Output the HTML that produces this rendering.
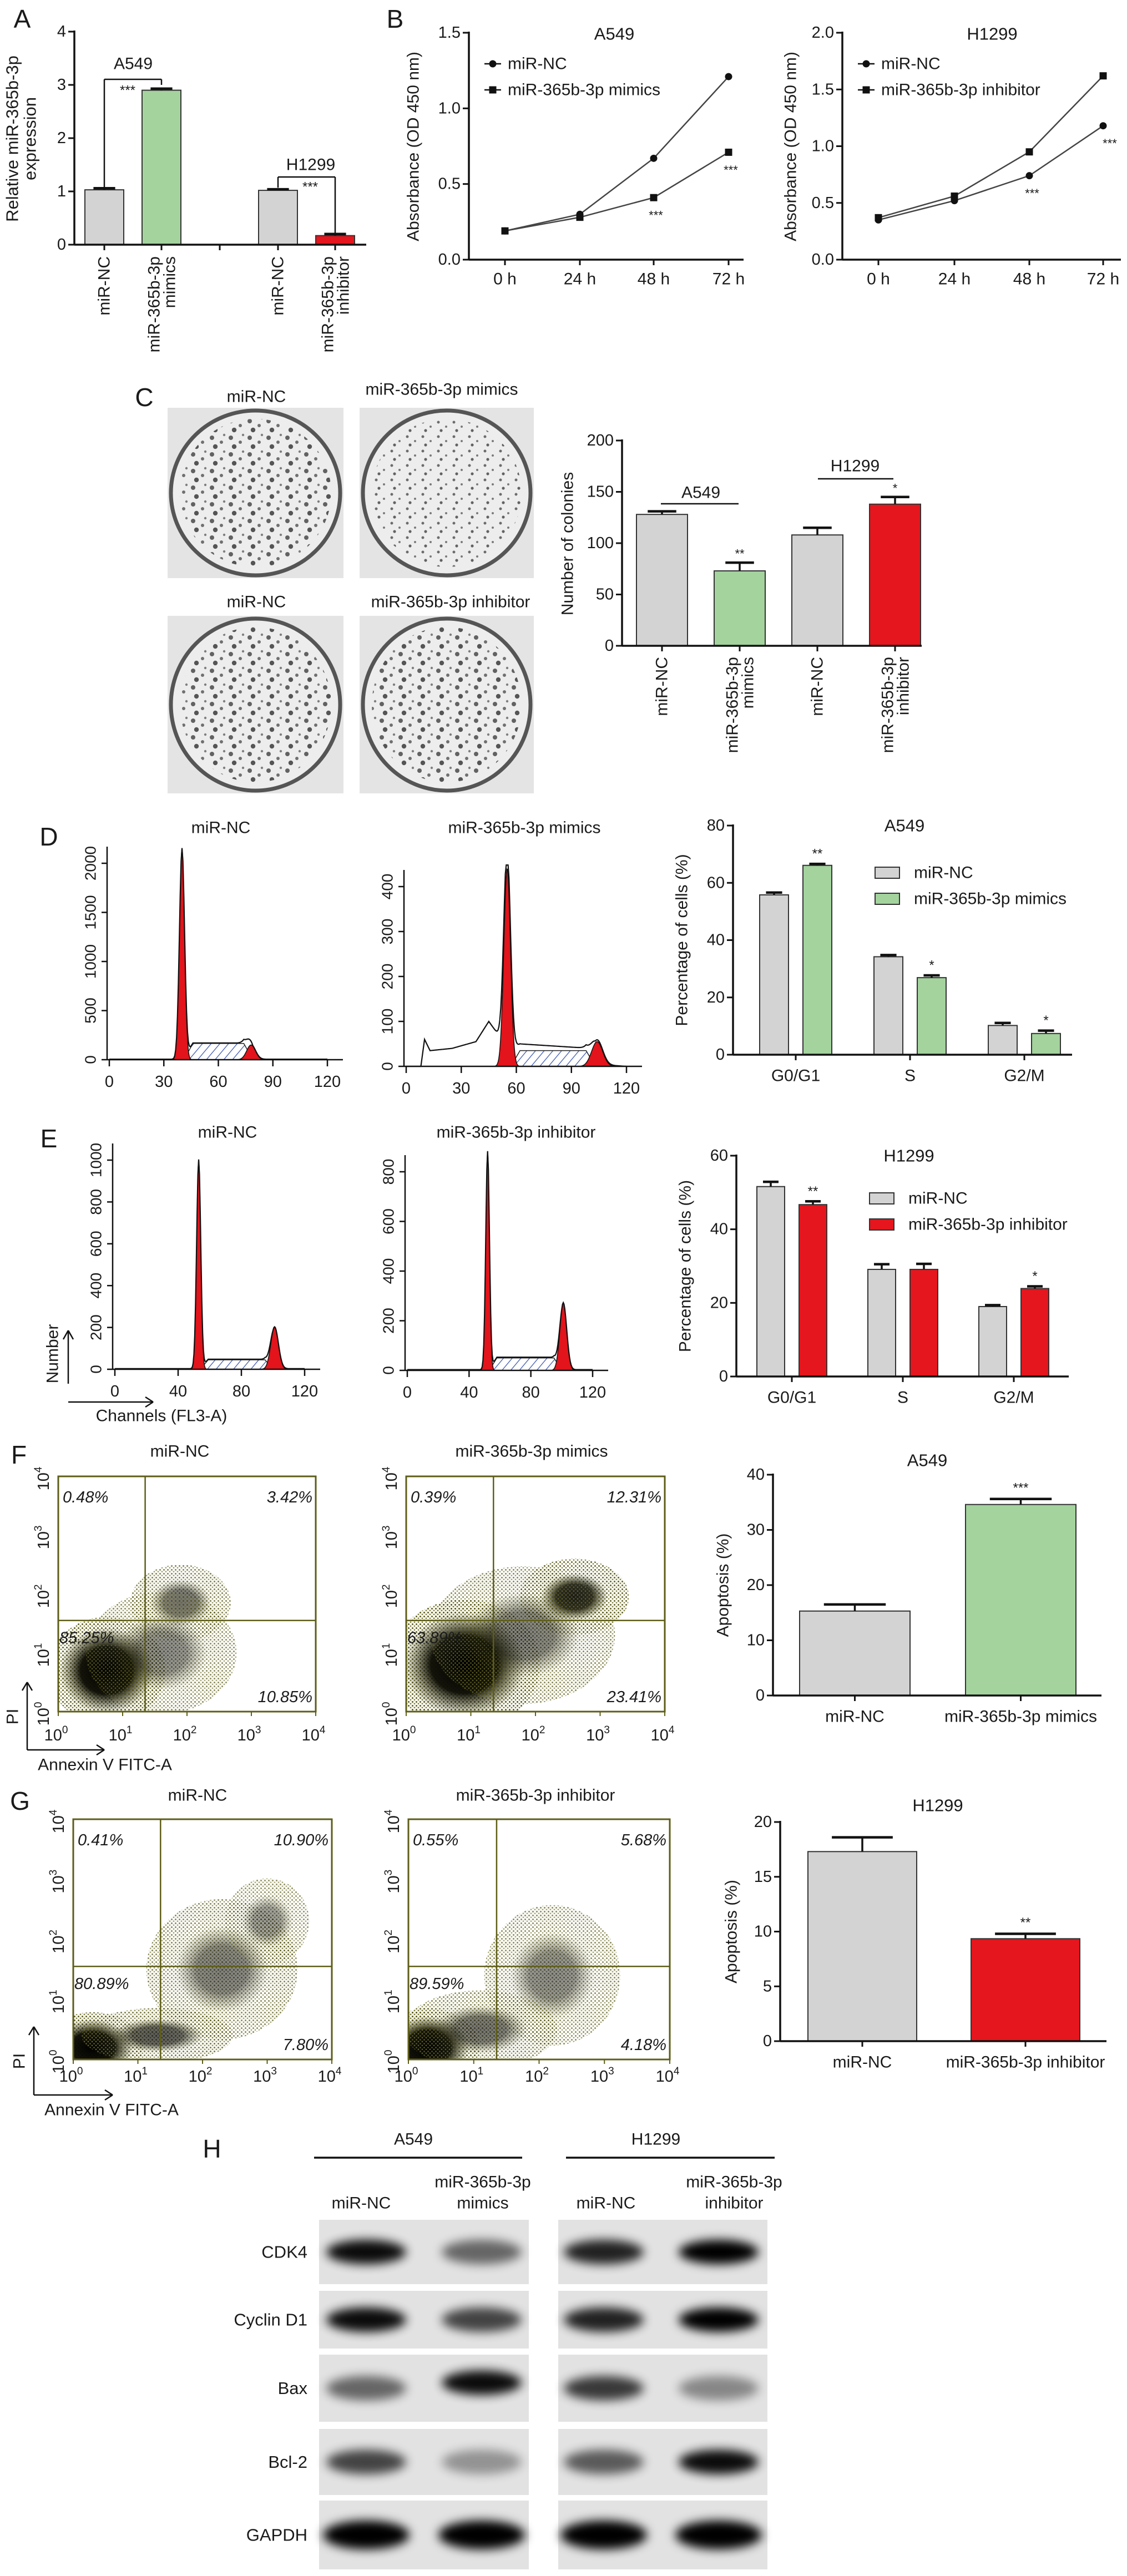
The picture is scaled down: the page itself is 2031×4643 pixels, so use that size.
<!DOCTYPE html>
<html><head><meta charset="utf-8">
<style>
body{margin:0;background:#fff}
svg{display:block;font-family:"Liberation Sans",Arial,sans-serif}
</style></head>
<body>
<svg id="fig" width="2031" height="4643" viewBox="0 0 2031 4643" xmlns="http://www.w3.org/2000/svg">
<defs>
 <pattern id="hatch" width="12" height="12" patternUnits="userSpaceOnUse" patternTransform="rotate(40)"><line x1="0" y1="0" x2="0" y2="12" stroke="#3a55b0" stroke-width="2.5"/></pattern>
 <pattern id="colony" width="34" height="30" patternUnits="userSpaceOnUse"><circle cx="8" cy="9" r="4" fill="#4a4a4a"/><circle cx="25" cy="17" r="3" fill="#5a5a5a"/><circle cx="14" cy="25" r="4.2" fill="#3a3a3a"/><circle cx="30" cy="4" r="2.2" fill="#6a6a6a"/></pattern>
 <pattern id="colony2" width="28" height="26" patternUnits="userSpaceOnUse"><circle cx="6" cy="7" r="2.5" fill="#555"/><circle cx="20" cy="15" r="2" fill="#666"/><circle cx="11" cy="22" r="2.6" fill="#4a4a4a"/></pattern>
 <pattern id="speck" width="7" height="7" patternUnits="userSpaceOnUse"><circle cx="1.5" cy="1.5" r="1.6" fill="#5f5f20"/><circle cx="5" cy="4.8" r="1.4" fill="#7a7a30"/></pattern>
 <radialGradient id="dens"><stop offset="0" stop-color="#000"/><stop offset="0.55" stop-color="#0d0d04" stop-opacity="0.97"/><stop offset="1" stop-color="#3a3a10" stop-opacity="0"/></radialGradient>
 <filter id="blur" x="-50%" y="-100%" width="200%" height="300%"><feGaussianBlur stdDeviation="9"/></filter>
</defs>
</svg>
<script>
// ---------- DATA ----------
const aCats = ['miR-NC','miR-365b-3p mimics','miR-NC','miR-365b-3p inhibitor'];
const aVals = [1.03, 2.90, 1.02, 0.17];
const aErrs = [0.03, 0.03, 0.02, 0.03];
const aTicks = [0,1,2,3,4];

const bTimes = ['0 h','24 h','48 h','72 h'];
const bA549NC = [0.19, 0.30, 0.67, 1.21];
const bA549Mim = [0.19, 0.28, 0.41, 0.71];
const bH1299NC = [0.35, 0.52, 0.74, 1.18];
const bH1299Inh = [0.37, 0.56, 0.95, 1.62];
const bTicksA = ['0.0','0.5','1.0','1.5'];
const bTicksH = ['0.0','0.5','1.0','1.5','2.0'];

const cVals = [128, 73, 108, 138];
const cErrs = [3, 8, 7, 7];
const cTicks = [0,50,100,150,200];

const phases = ['G0/G1','S','G2/M'];
const dNC = [55.8, 34.2, 10.2];
const dMim = [66.1, 26.9, 7.4];
const dNCErr = [0.8, 0.6, 0.9];
const dMimErr = [0.5, 0.8, 1.0];
const dTicks = [0,20,40,60,80];
const eNC = [51.6, 29.1, 19.0];
const eInh = [46.7, 29.1, 23.9];
const eNCErr = [1.3, 1.4, 0.4];
const eInhErr = [0.9, 1.5, 0.6];
const eTicks = [0,20,40,60];

const fVals = [15.3, 34.6];
const fErrs = [1.2, 1.0];
const fTicks = [0,10,20,30,40];
const gVals = [17.3, 9.35];
const gErrs = [1.3, 0.45];
const gTicks = [0,5,10,15,20];

// histogram peaks: [channel, height, sd]
const hD1Peaks = [[40,2150,1.4],[78,150,2.4]];
const hD1S = [44,76,165];
const hD1Debris = [[0,5],[120,5]];
const hD2Peaks = [[55,440,1.8],[104,55,3]];
const hD2S = [60,100,35];
const hD2Debris = [[8,0],[10,60],[13,35],[25,40],[38,55],[45,100],[52,60],[62,15],[120,0]];
const hE1Peaks = [[53,1000,1.3],[101,200,2.4]];
const hE1S = [57,97,45];
const hE1Debris = [[0,3],[120,3]];
const hE2Peaks = [[52,880,1.2],[101,270,2.2]];
const hE2S = [56,97,50];
const hE2Debris = [[0,3],[120,3]];

// scatter clusters: [log x, log y, rx(decades), ry(decades), darkness]
const fNCclusters = [[0.75,0.7,0.7,0.7,1],[1.9,1.85,0.6,0.5,0.55],[1.6,1.0,0.9,0.8,0.45]];
const fMimClusters = [[0.9,0.8,0.9,0.85,1],[2.6,1.95,0.65,0.5,0.9],[1.8,1.3,1.1,0.9,0.5]];
const gNCclusters = [[0.3,0.2,0.6,0.45,1],[2.3,1.5,0.9,0.9,0.5],[3.0,2.3,0.5,0.55,0.4],[1.3,0.4,0.9,0.35,0.65]];
const gInhClusters = [[0.3,0.2,0.6,0.5,1],[2.2,1.4,0.8,0.9,0.45],[1.1,0.5,0.9,0.5,0.55]];
const fNCpct = ['0.48%','3.42%','85.25%','10.85%'];
const fMimPct = ['0.39%','12.31%','63.89%','23.41%'];
const gNCpct = ['0.41%','10.90%','80.89%','7.80%'];
const gInhPct = ['0.55%','5.68%','89.59%','4.18%'];
const quadGate = [1.35, 1.55];

const blotRows = ['CDK4','Cyclin D1','Bax','Bcl-2','GAPDH'];
const blotInt = [[0.95,0.55,0.85,1.0],[0.95,0.7,0.85,1.0],[0.55,0.95,0.75,0.4],[0.7,0.35,0.6,0.95],[1,1,1,1]];

// ---------- HELPERS ----------
const NS='http://www.w3.org/2000/svg';
const svg=document.getElementById('fig');
function mk(tag,a,p){const e=document.createElementNS(NS,tag);for(const k in a)e.setAttribute(k,a[k]);(p||svg).appendChild(e);return e;}
function label(name,str,x,y,size,anchor,rot,extra){
  const t=mk('text',Object.assign({x:x,y:y,'font-size':size,'text-anchor':anchor||'middle','dominant-baseline':'central',fill:'#1a1a1a'},extra||{}));
  if(rot) t.setAttribute('transform','rotate('+rot+' '+x+' '+y+')');
  t.textContent=str;
  
  
  return t;
}
function line(name,x1,y1,x2,y2,w,c){
  const l=mk('line',{x1:x1,y1:y1,x2:x2,y2:y2,stroke:c||'#111','stroke-width':w||3});
  
  
  return l;
}
function yAxis(prefix,ax,yB,yT,vmax,ticks,fmt){
  line(prefix+'-y-axis',ax,yT-2,ax,yB,3.5);
  ticks.forEach(v=>{
    const y=yB-(parseFloat(v)/vmax)*(yB-yT);
    line(prefix+'-y-tick',ax-11,y,ax,y,3);
    label(prefix+'-y-tick-label',fmt?fmt(v):String(v),ax-15,y,29,'end');
  });
}
function bars(prefix,vals,errs,xs,w,yB,yT,vmax,colors){
  vals.forEach((v,i)=>{
    const y=yB-(v/vmax)*(yB-yT);
    const r=mk('rect',{x:xs[i],y:y,width:w,height:yB-y,fill:colors[i],stroke:'#333','stroke-width':2});
    
    
    const ye=yB-((v+errs[i])/vmax)*(yB-yT);
    const cx=xs[i]+w/2, cw=Math.max(12,w*0.28);
    line(prefix+'-error-bar',cx,y,cx,ye,3.5);
    line(prefix+'-error-cap',cx-cw,ye,cx+cw,ye,4.5);
  });
}
const GRAY='#d3d3d3', GREEN='#a4d39e', RED='#e5161d';

// ---------- PANEL LETTERS ----------
[['A',40,34],['B',712,34],['C',260,716],['D',88,1508],['E',88,2052],['F',34,2622],['G',36,3246],['H',382,3873]].forEach(p=>{
  label('panel-label-'+p[0].toLowerCase(),p[0],p[1],p[2],46);
});

// ---------- PANEL A ----------
(function(){
  const ax=134,yB=441,yT=57,vmax=4,w=70;
  const xs=aVals.map((v,i)=>153+i*103+(i>=2?107:0));
  bars('panel-a',aVals,aErrs,xs,w,yB,yT,vmax,[GRAY,GREEN,GRAY,RED]);
  yAxis('panel-a',ax,yB,yT,vmax,aTicks);
  line('panel-a-x-axis',ax,yB,660,yB,3.5);
  xs.forEach(x=>line('panel-a-x-tick',x+w/2,yB,x+w/2,yB+10,3));
  line('panel-a-x-tick',396,yB,396,yB+10,3);
  label('panel-a-y-title','Relative miR-365b-3p',22,250,31,'middle',-90);
  label('panel-a-y-title-2','expression',54,250,31,'middle',-90);
  const yv=v=>yB-(v/vmax)*(yB-yT);
  line('a549-bracket',xs[0]+w/2,yv(1.08),xs[0]+w/2,143,2.5);
  line('a549-bracket',xs[0]+w/2,143,xs[1]+w/2,143,2.5);
  line('a549-bracket',xs[1]+w/2,143,xs[1]+w/2,153,2.5);
  label('a549-bracket-label','A549',240,115,30);
  label('panel-a-sig','***',230,163,24);
  line('h1299-bracket',xs[2]+w/2,yv(1.07),xs[2]+w/2,319,2.5);
  line('h1299-bracket',xs[2]+w/2,319,xs[3]+w/2,319,2.5);
  line('h1299-bracket',xs[3]+w/2,319,xs[3]+w/2,yv(0.22),2.5);
  label('h1299-bracket-label','H1299',560,297,30);
  label('panel-a-sig','***',559,337,24);
  aCats.forEach((c,i)=>{
    const cx=xs[i]+w/2;
    const parts=c==='miR-NC'?['miR-NC']:['miR-365b-3p',c.split(' ')[1]];
    if(parts.length===1) label('panel-a-x-label',parts[0],cx,462,30,'end',-90);
    else {label('panel-a-x-label',parts[0],cx-13,462,30,'end',-90);label('panel-a-x-label',parts[1],cx+15,462,30,'end',-90);}
  });
})();

// ---------- PANEL B ----------
function lineChart(prefix,ax,axEnd,yB,yT,vmax,tickLabels,xPos,s1,s2,title,titleX,legend2,ytitleX){
  yAxis(prefix,ax,yB,yT,vmax,tickLabels);
  line(prefix+'-x-axis',ax,yB,axEnd,yB,3.5);
  bTimes.forEach((t,i)=>{line(prefix+'-x-tick',xPos[i],yB,xPos[i],yB+10,3);label(prefix+'-x-tick-label',t,xPos[i],503,30);});
  const Y=v=>yB-(v/vmax)*(yB-yT);
  [s1,s2].forEach((s,k)=>{
    const pl=mk('polyline',{points:s.map((v,i)=>xPos[i]+','+Y(v)).join(' '),fill:'none',stroke:'#444','stroke-width':2.5});
    
    
    s.forEach((v,i)=>{
      let m;
      if(k===0) m=mk('circle',{cx:xPos[i],cy:Y(v),r:6.5,fill:'#111'});
      else m=mk('rect',{x:xPos[i]-6.5,y:Y(v)-6.5,width:13,height:13,fill:'#111'});
      
      
    });
  });
  label(prefix+'-title',title,titleX,61,31);
  const lx=ax+40;
  line(prefix+'-legend-line',lx-12,115,lx+18,115,2.5);
  const c=mk('circle',{cx:lx+3,cy:115,r:6.5,fill:'#111'});
  
  
  label(prefix+'-legend-nc','miR-NC',lx+30,115,30,'start');
  line(prefix+'-legend-line',lx-12,162,lx+18,162,2.5);
  const q=mk('rect',{x:lx-3.5,y:155.5,width:13,height:13,fill:'#111'});
  
  
  label(prefix+'-legend-treated',legend2,lx+30,162,30,'start');
  label(prefix+'-y-title','Absorbance (OD 450 nm)',ytitleX,264,30,'middle',-90);
  return Y;
}
(function(){
  const Y=lineChart('panel-b-a549',845,1340,468,59,1.5,bTicksA,[910,1045,1178,1313],bA549NC,bA549Mim,'A549',1107,'miR-365b-3p mimics',745);
  label('panel-b-a549-sig','***',1182,Y(bA549Mim[2])+32,22);
  label('panel-b-a549-sig','***',1317,Y(bA549Mim[3])+32,22);
  const Y2=lineChart('panel-b-h1299',1518,2020,468,59,2.0,bTicksH,[1583,1720,1855,1988],bH1299NC,bH1299Inh,'H1299',1788,'miR-365b-3p inhibitor',1425);
  label('panel-b-h1299-sig','***',1860,Y2(bH1299NC[2])+32,22);
  label('panel-b-h1299-sig','***',2000,Y2(bH1299NC[3])+32,22);
})();

// ---------- PANEL C ----------
(function(){
  const dishes=[[302,735,317,307,'colony','miR-NC',462,715],[648,735,314,307,'colony2','miR-365b-3p mimics',796,702],[302,1110,317,320,'colony','miR-NC',462,1085],[648,1110,314,320,'colony','miR-365b-3p inhibitor',812,1085]];
  dishes.forEach((d,i)=>{
    const g=mk('g',{});
    
    
    mk('rect',{x:d[0],y:d[1],width:d[2],height:d[3],fill:'#e4e4e4'},g);
    mk('ellipse',{cx:d[0]+d[2]/2,cy:d[1]+d[3]/2,rx:d[2]/2-6,ry:d[3]/2-5,fill:'#ededed',stroke:'#555','stroke-width':7},g);
    mk('ellipse',{cx:d[0]+d[2]/2,cy:d[1]+d[3]/2,rx:d[2]/2-22,ry:d[3]/2-20,fill:'url(#'+d[4]+')',opacity:0.85},g);
    label('colony-dish-label',d[5],d[6],d[7],30);
  });
  const ax=1121,yB=1164,yT=794,vmax=200,w=92;
  const xs=cVals.map((v,i)=>1147+i*140);
  bars('panel-c',cVals,cErrs,xs,w,yB,yT,vmax,[GRAY,GREEN,GRAY,RED]);
  yAxis('panel-c',ax,yB,yT,vmax,cTicks);
  line('panel-c-x-axis',ax,yB,1661,yB,3.5);
  xs.forEach(x=>line('panel-c-x-tick',x+w/2,yB,x+w/2,yB+10,3));
  label('panel-c-y-title','Number of colonies',1023,980,30,'middle',-90);
  line('panel-c-a549-line',1191,908,1331,908,2.5);
  label('panel-c-a549-label','A549',1263,888,30);
  line('panel-c-h1299-line',1474,863,1610,863,2.5);
  label('panel-c-h1299-label','H1299',1541,840,30);
  const Y=v=>yB-(v/vmax)*(yB-yT);
  label('panel-c-sig','**',xs[1]+w/2,Y(cVals[1]+cErrs[1])-16,22);
  label('panel-c-sig','*',xs[3]+w/2,Y(cVals[3]+cErrs[3])-16,22);
  aCats.forEach((c,i)=>{
    const cx=xs[i]+w/2;
    if(c==='miR-NC') label('panel-c-x-label',c,cx,1184,30,'end',-90);
    else {label('panel-c-x-label','miR-365b-3p',cx-13,1184,30,'end',-90);label('panel-c-x-label',c.split(' ')[1],cx+15,1184,30,'end',-90);}
  });
})();

// ---------- HISTOGRAMS ----------
function hist(prefix,x0,x1,yB,yT,ymax,xTicks,yTicks,peaks,S,debris,title,titleX,titleY){
  const X=c=>x0+(c/120)*(x1-x0), Y=v=>yB-(v/ymax)*(yB-yT);
  const gau=(c,p)=>p[1]*Math.exp(-0.5*Math.pow((c-p[0])/p[2],2));
  const deb=c=>{for(let i=0;i<debris.length-1;i++){const a=debris[i],b=debris[i+1];if(c>=a[0]&&c<=b[0])return a[1]+(b[1]-a[1])*(c-a[0])/(b[0]-a[0]);}return 0;};
  const sf=c=>{if(c<S[0]-3||c>S[1]+3)return 0;const e1=Math.min(1,(c-S[0]+3)/5),e2=Math.min(1,(S[1]+3-c)/5);return S[2]*Math.max(0,Math.min(e1,e2));};
  let sPts=[],tot=[];
  for(let c=0;c<=120;c+=0.5){sPts.push(X(c)+','+Y(sf(c)));tot.push(X(c)+','+Y(Math.min(ymax*1.12,gau(c,peaks[0])+gau(c,peaks[1])+sf(c)+deb(c))));}
  const sp=mk('polygon',{points:X(0)+','+yB+' '+sPts.join(' ')+' '+X(120)+','+yB,fill:'url(#hatch)',stroke:'#222','stroke-width':1.5});
  
  
  peaks.forEach((p,k)=>{
    let pts=[];
    for(let c=p[0]-4.5*p[2];c<=p[0]+4.5*p[2];c+=0.25)pts.push(X(c)+','+Y(gau(c,p)));
    const pg=mk('polygon',{points:X(p[0]-4.5*p[2])+','+yB+' '+pts.join(' ')+' '+X(p[0]+4.5*p[2])+','+yB,fill:'#e3141b',stroke:'#111','stroke-width':1.5});
    
    
  });
  const ol=mk('polyline',{points:tot.join(' '),fill:'none',stroke:'#111','stroke-width':2.2});
  
  
  line(prefix+'-y-axis',x0-4,yT-30,x0-4,yB,2.5);
  line(prefix+'-x-axis',x0-4,yB,x1+28,yB,2.5);
  yTicks.forEach(v=>{line(prefix+'-y-tick',x0-14,Y(v),x0-4,Y(v),2.5);label(prefix+'-y-tick-label',String(v),x0-34,Y(v),28,'middle',-90);});
  xTicks.forEach(v=>{line(prefix+'-x-tick',X(v),yB,X(v),yB+12,2.5);label(prefix+'-x-tick-label',String(v),X(v),yB+40,29);});
  label(prefix+'-title',title,titleX,titleY,30);
}
hist('panel-d-nc',197,590,1910,1556,2000,[0,30,60,90,120],[0,500,1000,1500,2000],hD1Peaks,hD1S,hD1Debris,'miR-NC',398,1492);
hist('panel-d-mimics',732,1129,1922,1598,400,[0,30,60,90,120],[0,100,200,300,400],hD2Peaks,hD2S,hD2Debris,'miR-365b-3p mimics',945,1492);
hist('panel-e-nc',207,549,2468,2091,1000,[0,40,80,120],[0,200,400,600,800,1000],hE1Peaks,hE1S,hE1Debris,'miR-NC',410,2041);
hist('panel-e-inhibitor',734,1068,2470,2112,800,[0,40,80,120],[0,200,400,600,800],hE2Peaks,hE2S,hE2Debris,'miR-365b-3p inhibitor',930,2041);
line('number-arrow',123,2494,123,2398,2.5);
line('number-arrow-head',123,2398,114,2414,2.5);line('number-arrow-head',123,2398,132,2414,2.5);
line('channels-arrow',123,2527,276,2527,2.5);
line('channels-arrow-head',276,2527,262,2518,2.5);line('channels-arrow-head',276,2527,262,2536,2.5);
label('number-label','Number',95,2440,30,'middle',-90);
label('channels-label','Channels   (FL3-A)',291,2552,30);

// ---------- GROUPED BAR D / E ----------
function grouped(prefix,ax,axEnd,yB,yT,vmax,ticks,s1,s2,e1,e2,c2,x0,step,gstep,w,title,titleX,leg2,legY,legX,sigs){
  const Y=v=>yB-(v/vmax)*(yB-yT);
  const xs1=s1.map((v,i)=>x0+i*gstep), xs2=s2.map((v,i)=>x0+step+i*gstep);
  bars(prefix+'-nc',s1,e1,xs1,w,yB,yT,vmax,s1.map(()=>GRAY));
  bars(prefix+'-treated',s2,e2,xs2,w,yB,yT,vmax,s2.map(()=>c2));
  yAxis(prefix,ax,yB,yT,vmax,ticks);
  line(prefix+'-x-axis',ax,yB,axEnd,yB,3.5);
  phases.forEach((p,i)=>{const cx=(xs1[i]+xs2[i]+w)/2;line(prefix+'-x-tick',cx,yB,cx,yB+10,3);label(prefix+'-x-label',p,cx,yB+38,30);});
  label(prefix+'-title',title,titleX,yT,31);
  label(prefix+'-y-title','Percentage of cells (%)',ax-92,(yB+yT)/2,30,'middle',-90);
  [[GRAY,'miR-NC',legY[0]],[c2,leg2,legY[1]]].forEach((l,k)=>{
    const r=mk('rect',{x:legX,y:l[2]-10,width:44,height:20,fill:l[0],stroke:'#333','stroke-width':2});
    
    
    label(prefix+'-legend-label',l[1],legX+70,l[2],30,'start');
  });
  sigs.forEach((s,i)=>{if(s)label(prefix+'-sig',s,xs2[i]+w/2,Y(s2[i]+e2[i])-18,24);});
}
grouped('panel-d',1321,1932,1901,1488,80,dTicks,dNC,dMim,dNCErr,dMimErr,GREEN,1369,78,206,52,'A549',1630,'miR-365b-3p mimics',[1573,1620],1577,['**','*','*']);
grouped('panel-e',1327,1926,2481,2083,60,eTicks,eNC,eInh,eNCErr,eInhErr,RED,1364,76,200,50,'H1299',1638,'miR-365b-3p inhibitor',[2160,2207],1567,['**','','*']);

// ---------- SCATTER F / G ----------
function scatter(prefix,bx,by,bw,bh,clusters,pct,title,titleX,titleY,tickY){
  const X=l=>bx+(l/4)*bw, Y=l=>by+bh-(l/4)*bh;
  const cid='clip-'+prefix;
  const cp=mk('clipPath',{id:cid});mk('rect',{x:bx,y:by,width:bw,height:bh},cp);
  const g=mk('g',{'clip-path':'url(#'+cid+')'});
  
  
  clusters.forEach(c=>{
    const e1=mk('ellipse',{cx:X(c[0]),cy:Y(c[1]),rx:c[2]*bw/4*1.3,ry:c[3]*bh/4*1.3,fill:'url(#speck)',opacity:0.45+0.5*c[4]},g);
    
    
    const e2=mk('ellipse',{cx:X(c[0]),cy:Y(c[1]),rx:c[2]*bw/4*(c[4]>0.9?1.05:0.8),ry:c[3]*bh/4*(c[4]>0.9?1.05:0.8),fill:'url(#dens)',opacity:c[4]},g);
    
    
  });
  const b=mk('rect',{x:bx,y:by,width:bw,height:bh,fill:'none',stroke:'#5e5e18','stroke-width':3});
  
  
  line(prefix+'-quadrant-vertical',X(quadGate[0]),by,X(quadGate[0]),by+bh,2.5,'#5e5e18');
  line(prefix+'-quadrant-horizontal',bx,Y(quadGate[1]),bx+bw,Y(quadGate[1]),2.5,'#5e5e18');
  const st={'font-style':'italic'};
  label(prefix+'-pct-ul',pct[0],bx+8,by+38,29,'start',0,st);
  label(prefix+'-pct-ur',pct[1],bx+bw-6,by+38,29,'end',0,st);
  label(prefix+'-pct-ll',pct[2],bx+2,Y(quadGate[1])+32,29,'start',0,st);
  label(prefix+'-pct-lr',pct[3],bx+bw-6,by+bh-26,29,'end',0,st);
  [0,1,2,3,4].forEach(k=>{
    const t=label(prefix+'-x-tick-label','10',X(k)-4,tickY,29);
    const s=mk('tspan',{dy:-10,'font-size':19},t);s.textContent=String(k);
    const ty=label(prefix+'-y-tick-label','10',bx-26,Y(k)+4,29,'middle',-90);
    const s2=mk('tspan',{dy:-10,'font-size':19},ty);s2.textContent=String(k);
    line(prefix+'-x-tick',X(k),by+bh,X(k),by+bh+8,2,'#5e5e18');
  });
  label(prefix+'-title',title,titleX,titleY,30);
}
scatter('panel-f-nc',105,2661,464,424,fNCclusters,fNCpct,'miR-NC',324,2616,3128);
scatter('panel-f-mimics',732,2661,466,424,fMimClusters,fMimPct,'miR-365b-3p mimics',958,2616,3128);
scatter('panel-g-nc',132,3279,466,433,gNCclusters,gNCpct,'miR-NC',356,3236,3743);
scatter('panel-g-inhibitor',736,3279,471,433,gInhClusters,gInhPct,'miR-365b-3p inhibitor',965,3236,3743);
[[49,3032,3154,188,'F'],[61,3653,3776,203,'G']].forEach(a=>{
  line('pi-arrow',a[0],a[2],a[0],a[1],2.5);line('pi-arrow-head',a[0],a[1],a[0]-9,a[1]+15,2.5);line('pi-arrow-head',a[0],a[1],a[0]+9,a[1]+15,2.5);
  line('annexin-arrow',a[0],a[2],a[3],a[2],2.5);line('annexin-arrow-head',a[3],a[2],a[3]-14,a[2]-9,2.5);line('annexin-arrow-head',a[3],a[2],a[3]-14,a[2]+9,2.5);
  label('pi-label','PI',a[0]-26,a[1]+62,30,'middle',-90);
  label('annexin-label','Annexin V FITC-A',a[0]+140,a[2]+27,30);
});

// ---------- APOPTOSIS BARS ----------
function apo(prefix,ax,axEnd,yB,yT,vmax,ticks,vals,errs,c2,xs,w,title,titleX,titleY,cats,sig,ytX){
  bars(prefix,vals,errs,xs,w,yB,yT,vmax,[GRAY,c2]);
  yAxis(prefix,ax,yB,yT,vmax,ticks);
  line(prefix+'-x-axis',ax,yB,axEnd,yB,3.5);
  const Y=v=>yB-(v/vmax)*(yB-yT);
  xs.forEach((x,i)=>{line(prefix+'-x-tick',x+w/2,yB,x+w/2,yB+10,3);label(prefix+'-x-label',cats[i],x+w/2,yB+38,30);});
  label(prefix+'-sig',sig,xs[1]+w/2,Y(vals[1]+errs[1])-20,24);
  label(prefix+'-title',title,titleX,titleY,31);
  label(prefix+'-y-title','Apoptosis (%)',ytX,(yB+yT)/2,30,'middle',-90);
}
apo('panel-f-bar',1393,1985,3056,2658,40,fTicks,fVals,fErrs,GREEN,[1441,1740],199,'A549',1671,2632,['miR-NC','miR-365b-3p mimics'],'***',1303);
apo('panel-g-bar',1406,1994,3679,3284,20,gTicks,gVals,gErrs,RED,[1456,1750],196,'H1299',1690,3254,['miR-NC','miR-365b-3p inhibitor'],'**',1318);

// ---------- PANEL H ----------
(function(){
  label('blot-a549-header','A549',745,3856,30);
  line('blot-a549-line',566,3889,941,3889,3.5);
  label('blot-h1299-header','H1299',1182,3856,30);
  line('blot-h1299-line',1020,3889,1396,3889,3.5);
  label('lane-label','miR-NC',651,3971,30);
  label('lane-label','miR-365b-3p',870,3933,30);
  label('lane-label','mimics',870,3971,30);
  label('lane-label','miR-NC',1092,3971,30);
  label('lane-label','miR-365b-3p',1323,3933,30);
  label('lane-label','inhibitor',1323,3971,30);
  const rowY=[[4001,116],[4129,104],[4244,121],[4378,119],[4507,124]];
  const panels=[[575,378],[1006,377]];
  const laneX=[660,868,1088,1295];
  blotRows.forEach((r,i)=>{
    const y=rowY[i][0],h=rowY[i][1];
    panels.forEach(p=>{
      const bg=mk('rect',{x:p[0],y:y,width:p[1],height:h,fill:'#e2e2e2'});
      
      
    });
    blotInt[i].forEach((v,j)=>{
      const b=mk('ellipse',{cx:laneX[j],cy:y+h/2+(i===2&&j===1?-10:0),rx:i===4?78:72,ry:i===4?26:22,fill:'#000',opacity:v,filter:'url(#blur)'});
      
      
    });
    label('blot-row-label',r,554,y+h/2,31,'end');
  });
})();
</script>
</body></html>
